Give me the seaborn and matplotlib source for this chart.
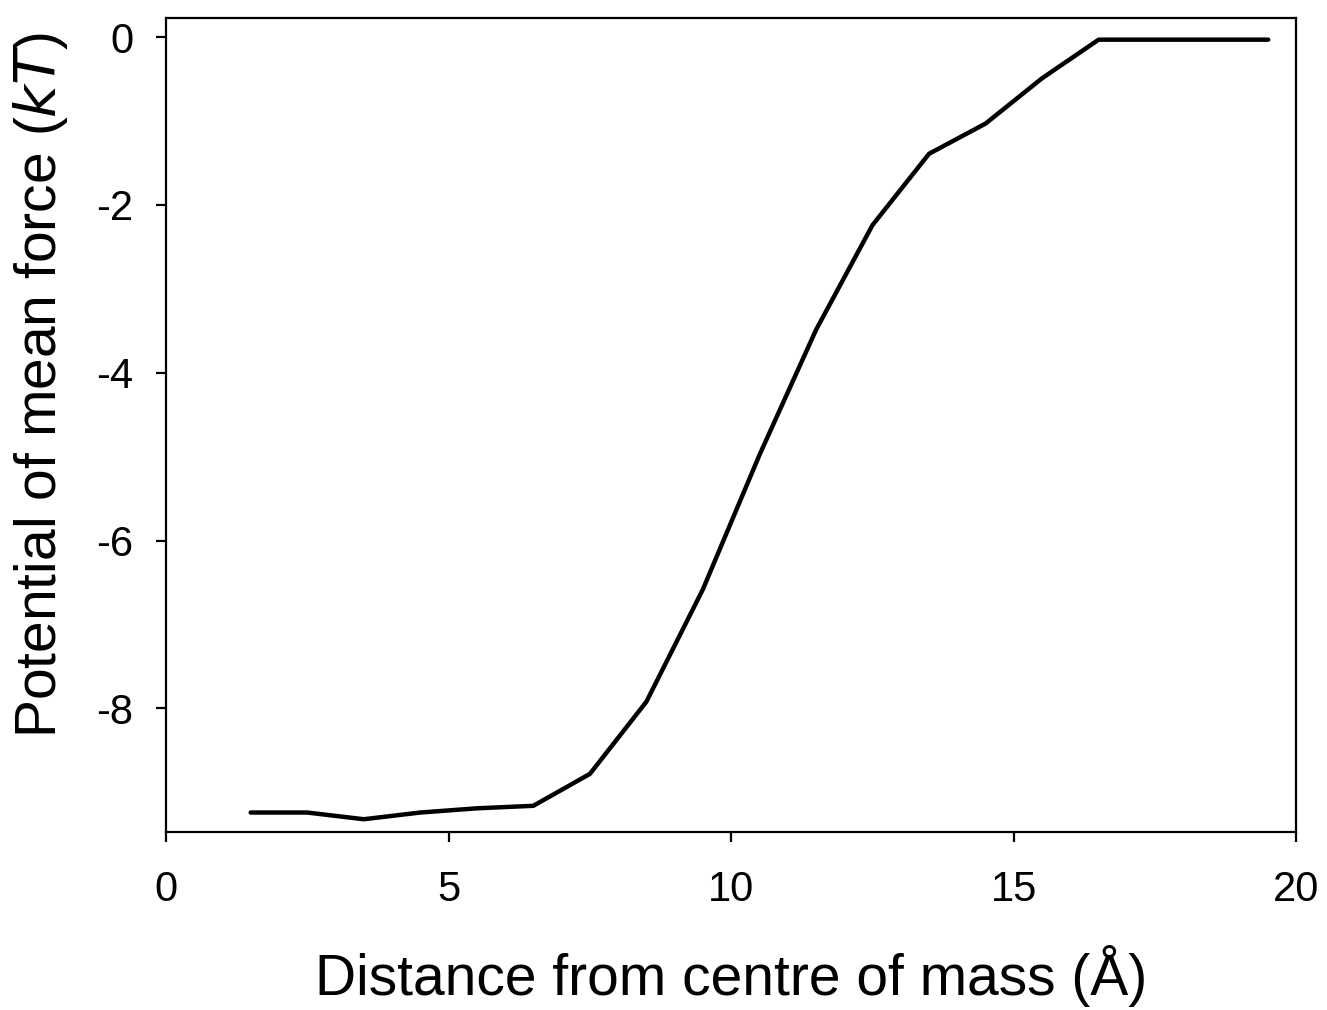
import matplotlib
matplotlib.use("Agg")
import matplotlib.pyplot as plt
import seaborn as sns
import pandas as pd

distance = [1.5, 2.5, 3.5, 4.5, 5.5, 6.5, 7.5, 8.5, 9.5, 10.5, 11.5, 12.5, 13.5, 14.5, 15.5, 16.5, 17.5, 18.5, 19.5]
pmf = [-9.24, -9.24, -9.32, -9.24, -9.19, -9.16, -8.78, -7.92, -6.58, -4.98, -3.49, -2.24, -1.39, -1.03, -0.49, -0.03, -0.03, -0.03, -0.03]
x_ticks = [0, 5, 10, 15, 20]
y_ticks = [0, -2, -4, -6, -8]
y_tick_labels = ["0", "-2", "-4", "-6", "-8"]

sns.set_style("ticks")
plt.rcParams['font.family'] = ['Liberation Sans', 'DejaVu Sans']
plt.rcParams['text.color'] = 'black'
plt.rcParams['axes.labelcolor'] = 'black'

df = pd.DataFrame({"x": distance, "y": pmf})

fig = plt.figure(figsize=(13.27, 10.10), dpi=100)
ax = fig.add_axes([0.125, 0.176, 0.852, 0.806])
sns.lineplot(data=df, x="x", y="y", ax=ax, color="black", linewidth=3.2)

ax.set_xlim(0, 20)
ax.set_ylim(-9.475, 0.226)
ax.set_xticks(x_ticks)
ax.set_yticks(y_ticks)
ax.set_yticklabels(y_tick_labels)
for s in ax.spines.values():
    s.set_visible(True)
    s.set_linewidth(1.6)
    s.set_color("black")
ax.tick_params(direction="out", length=7.5, width=1.6, labelsize=30, colors="black")
ax.tick_params(axis="x", pad=20)
ax.tick_params(axis="y", pad=16)
ax.set_xlabel("Distance from centre of mass (Å)", fontsize=41)
ax.set_ylabel("Potential of mean force ($\\mathit{kT}$)", fontsize=41)
ax.xaxis.set_label_coords(0.5, -0.138)
ax.yaxis.set_label_coords(-0.085, 0.549)

fig.savefig("out.png", dpi=100, facecolor="white")
